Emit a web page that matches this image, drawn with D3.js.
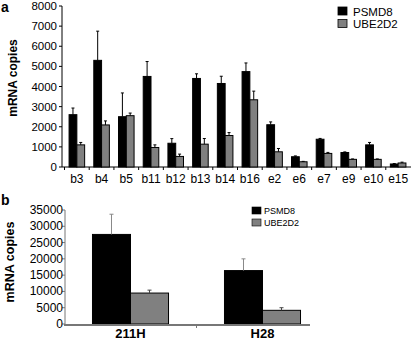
<!DOCTYPE html>
<html>
<head>
<meta charset="utf-8">
<script src="https://cdn.jsdelivr.net/npm/d3@7"></script>
<style>
  body { margin: 0; background: #fff; }
  svg { font-family: "Liberation Sans", Arial, sans-serif; }
</style>
</head>
<body>
<script>
// panel a data
var catsA = ["b3", "b4", "b5", "b11", "b12", "b13", "b14", "b16", "e2", "e6", "e7", "e9", "e10", "e15"];
var psmd8A = [2600, 5300, 2500, 4500, 1180, 4400, 4150, 4740, 2100, 510, 1380, 720, 1100, 150];
var psmd8ErrA = [330, 1450, 1180, 740, 230, 230, 360, 430, 140, 40, 40, 30, 120, 20];
var ube2d2A = [1100, 2090, 2550, 970, 525, 1135, 1565, 3340, 755, 260, 675, 380, 380, 200];
var ube2d2ErrA = [120, 200, 130, 130, 115, 280, 145, 430, 165, 20, 50, 20, 20, 40];
var ticksA = [0, 1000, 2000, 3000, 4000, 5000, 6000, 7000, 8000];

// panel b data
var catsB = ["211H", "H28"];
var psmd8B = [27500, 16400];
var psmd8ErrB = [6200, 3600];
var ube2d2B = [9500, 4200];
var ube2d2ErrB = [900, 800];
var ticksB = [0, 5000, 10000, 15000, 20000, 25000, 30000, 35000];

var series = ["PSMD8", "UBE2D2"];
var fills = ["#000000", "#808080"];

var svg = d3.select("body").append("svg")
    .attr("width", 413)
    .attr("height", 343);

// ---------- panel a ----------
var xa = d3.scaleBand().domain(catsA).range([64.5, 410.5])
    .paddingInner(0.37).paddingOuter(0.185);
var xa1 = d3.scaleBand().domain(series).range([0, xa.bandwidth()]);
var ya = d3.scaleLinear().domain([0, 8000]).range([167, 6]);

var ga = svg.append("g");

// y axis
ga.append("line").attr("x1", 62).attr("x2", 62)
    .attr("y1", ya(8000)).attr("y2", ya(0))
    .attr("stroke", "#000");
ga.selectAll(".yt").data(ticksA).enter().append("line")
    .attr("x1", 59).attr("x2", 62)
    .attr("y1", function (d) { return ya(d); })
    .attr("y2", function (d) { return ya(d); })
    .attr("stroke", "#000");
ga.selectAll(".yl").data(ticksA).enter().append("text")
    .attr("x", 57)
    .attr("y", function (d) { return ya(d) + 4; })
    .attr("text-anchor", "end")
    .attr("font-size", "11.5px")
    .text(function (d) { return d; });

// x axis
ga.append("line").attr("x1", 62).attr("x2", 411)
    .attr("y1", ya(0)).attr("y2", ya(0))
    .attr("stroke", "#000");
ga.selectAll(".xt").data(catsA).enter().append("line")
    .attr("x1", function (d) { return xa(d) - xa.step() * 0.185; })
    .attr("x2", function (d) { return xa(d) - xa.step() * 0.185; })
    .attr("y1", ya(0)).attr("y2", ya(0) + 3)
    .attr("stroke", "#000");
ga.selectAll(".xl").data(catsA).enter().append("text")
    .attr("x", function (d) { return xa(d) + xa.bandwidth() / 2; })
    .attr("y", 183)
    .attr("text-anchor", "middle")
    .attr("font-size", "12px")
    .text(function (d) { return d; });

function drawBars(g, cats, vals, errs, x0, x1, y, s, fill, capW, errColor) {
    var grp = g.append("g");
    grp.selectAll("rect").data(cats).enter().append("rect")
        .attr("x", function (d) { return x0(d) + x1(s); })
        .attr("y", function (d, i) { return y(vals[i]); })
        .attr("width", x1.bandwidth())
        .attr("height", function (d, i) { return y(0) - y(vals[i]); })
        .attr("fill", fill)
        .attr("stroke", "#000")
        .attr("stroke-width", 1);
    grp.selectAll(".err").data(cats).enter().append("line")
        .attr("x1", function (d) { return x0(d) + x1(s) + x1.bandwidth() / 2; })
        .attr("x2", function (d) { return x0(d) + x1(s) + x1.bandwidth() / 2; })
        .attr("y1", function (d, i) { return y(vals[i]); })
        .attr("y2", function (d, i) { return y(vals[i] + errs[i]); })
        .attr("stroke", errColor);
    grp.selectAll(".cap").data(cats).enter().append("line")
        .attr("x1", function (d) { return x0(d) + x1(s) + x1.bandwidth() / 2 - capW; })
        .attr("x2", function (d) { return x0(d) + x1(s) + x1.bandwidth() / 2 + capW; })
        .attr("y1", function (d, i) { return y(vals[i] + errs[i]); })
        .attr("y2", function (d, i) { return y(vals[i] + errs[i]); })
        .attr("stroke", errColor);
}

drawBars(ga, catsA, psmd8A, psmd8ErrA, xa, xa1, ya, "PSMD8", fills[0], 1.5, "#000");
drawBars(ga, catsA, ube2d2A, ube2d2ErrA, xa, xa1, ya, "UBE2D2", fills[1], 1.5, "#000");

ga.append("text")
    .attr("transform", "translate(17,78) rotate(-90)")
    .attr("text-anchor", "middle")
    .attr("font-size", "12px")
    .attr("font-weight", "bold")
    .text("mRNA copies");

ga.append("text").attr("x", 1).attr("y", 12)
    .attr("font-size", "14px").attr("font-weight", "bold").text("a");

// legend a
var la = ga.selectAll(".lga").data(series).enter().append("g")
    .attr("transform", function (d, i) { return "translate(338," + (7 + i * 12.5) + ")"; });
la.append("rect").attr("width", 9).attr("height", 8)
    .attr("fill", function (d, i) { return fills[i]; })
    .attr("stroke", "#000").attr("stroke-width", 0.8);
la.append("text").attr("x", 15).attr("y", 8.5)
    .attr("font-size", "11.5px")
    .text(function (d) { return d; });

// ---------- panel b ----------
var xb = d3.scaleBand().domain(catsB).range([64.5, 328.5])
    .paddingInner(0.424).paddingOuter(0.212);
var xb1 = d3.scaleBand().domain(series).range([0, xb.bandwidth()]);
var yb = d3.scaleLinear().domain([0, 35000]).range([324, 210]);

var gb = svg.append("g");

gb.append("line").attr("x1", 65).attr("x2", 65)
    .attr("y1", yb(35000)).attr("y2", yb(0))
    .attr("stroke", "#777");
gb.selectAll(".yt").data(ticksB).enter().append("line")
    .attr("x1", 62).attr("x2", 65)
    .attr("y1", function (d) { return yb(d); })
    .attr("y2", function (d) { return yb(d); })
    .attr("stroke", "#777");
gb.selectAll(".yl").data(ticksB).enter().append("text")
    .attr("x", 63)
    .attr("y", function (d) { return yb(d) + 4; })
    .attr("text-anchor", "end")
    .attr("font-size", "12px")
    .text(function (d) { return d; });

drawBars(gb, catsB, psmd8B, psmd8ErrB, xb, xb1, yb, "PSMD8", fills[0], 2, "#888");
drawBars(gb, catsB, ube2d2B, ube2d2ErrB, xb, xb1, yb, "UBE2D2", fills[1], 2, "#444");

gb.append("line").attr("x1", 64).attr("x2", 310)
    .attr("y1", yb(0) + 1).attr("y2", yb(0) + 1)
    .attr("stroke", "#777").attr("stroke-width", 2);
gb.append("line")
    .attr("x1", xb("H28") - xb.step() * 0.212).attr("x2", xb("H28") - xb.step() * 0.212)
    .attr("y1", yb(0) + 1).attr("y2", yb(0) + 4)
    .attr("stroke", "#777");

gb.selectAll(".xl").data(catsB).enter().append("text")
    .attr("x", function (d) { return xb(d) + xb.bandwidth() / 2; })
    .attr("y", 338)
    .attr("text-anchor", "middle")
    .attr("font-size", "13px")
    .attr("font-weight", "bold")
    .text(function (d) { return d; });

gb.append("text")
    .attr("transform", "translate(14,262) rotate(-90)")
    .attr("text-anchor", "middle")
    .attr("font-size", "12.5px")
    .attr("font-weight", "bold")
    .text("mRNA copies");

gb.append("text").attr("x", 1).attr("y", 205)
    .attr("font-size", "14px").attr("font-weight", "bold").text("b");

var lb = gb.selectAll(".lgb").data(series).enter().append("g")
    .attr("transform", function (d, i) { return "translate(252," + (207 + i * 12) + ")"; });
lb.append("rect").attr("width", 9).attr("height", 7)
    .attr("fill", function (d, i) { return fills[i]; })
    .attr("stroke", "#000").attr("stroke-width", 0.6);
lb.append("text").attr("x", 12).attr("y", 7)
    .attr("font-size", "9px")
    .text(function (d) { return d; });
</script>
</body>
</html>
